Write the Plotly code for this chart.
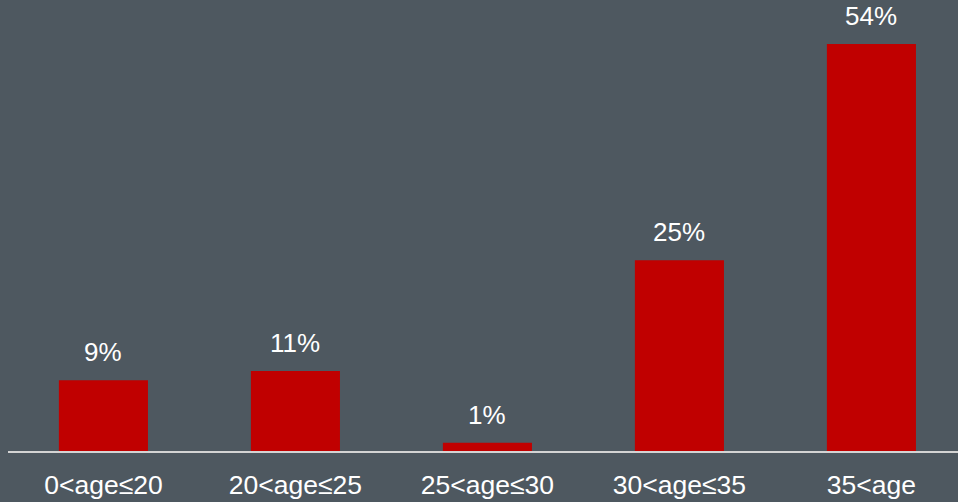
import plotly.graph_objects as go

categories = ["0<age≤20", "20<age≤25", "25<age≤30", "30<age≤35", "35<age"]
values = [9.4, 10.6, 1.1, 25.3, 54.0]
labels = ["9%", "11%", "1%", "25%", "54%"]

xpos = list(range(len(categories)))

fig = go.Figure()
fig.add_trace(go.Bar(
    x=xpos, y=values, width=0.464,
    marker=dict(color="#c00000", line=dict(width=0)),
    hoverinfo="skip",
))
for xv, yv, t in zip(xpos, values, labels):
    fig.add_annotation(x=xv, y=yv, text=t, showarrow=False, yanchor="bottom",
                       yshift=11, font=dict(color="white", size=26, family="Liberation Sans"))

fig.update_layout(
    width=958, height=502,
    margin=dict(l=8, r=0, t=0, b=51),
    paper_bgcolor="#4e5860", plot_bgcolor="#4e5860",
    showlegend=False,
    xaxis=dict(range=[-0.497, 4.451], tickmode="array", tickvals=xpos, ticktext=categories,
               showline=True, linecolor="#d4d4d4", linewidth=2, showgrid=False, zeroline=False,
               ticks="outside", ticklen=9, tickcolor="rgba(0,0,0,0)",
               tickfont=dict(color="white", size=26.5, family="Liberation Sans")),
    yaxis=dict(range=[0, 59.84], visible=False, showgrid=False, zeroline=False),
)
fig.write_html("out.html")
